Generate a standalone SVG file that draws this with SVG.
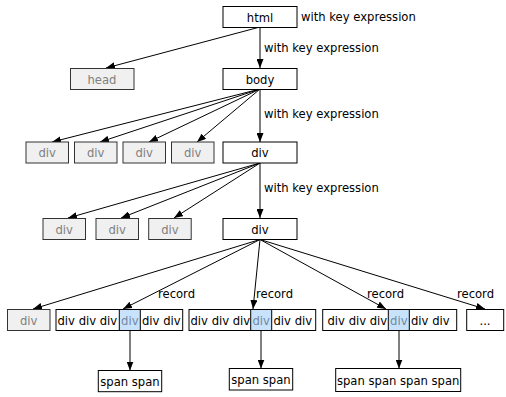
<svg xmlns="http://www.w3.org/2000/svg" width="506" height="397" viewBox="0 0 506 397">
  <defs>
    <marker id="arrow" markerUnits="userSpaceOnUse" markerWidth="9" markerHeight="7" refX="9" refY="3.5" orient="auto">
      <path d="M0,0 L9,3.5 L0,7 z" fill="#000"/>
    </marker>
    <style>
      text { font-family: "DejaVu Sans", Verdana, sans-serif; font-size: 11.6px; fill: #000; }
      .mid { text-anchor: middle; }
      .box { fill: #fff; stroke: #000; stroke-width: 1; }
      .dim rect { fill: #f0f0f0; stroke: #333; stroke-width: 1; }
      .dim text { fill: #808080; }
      .hl { fill: #c9e2fb; stroke: #000; stroke-width: 1; }
      .hlt { fill: #6f88a3; }
      .edge { stroke: #000; stroke-width: 1; fill: none; marker-end: url(#arrow); }
    </style>
  </defs>
  <rect width="506" height="397" fill="#fff"/>

  <!-- connectors -->
  <g id="edges">
    <line class="edge" x1="260" y1="27" x2="106" y2="68"/>
    <line class="edge" x1="260" y1="27" x2="260" y2="68"/>
    <line class="edge" x1="260" y1="89" x2="52" y2="142"/>
    <line class="edge" x1="260" y1="89" x2="100" y2="142"/>
    <line class="edge" x1="260" y1="89" x2="149" y2="142"/>
    <line class="edge" x1="260" y1="89" x2="197" y2="142"/>
    <line class="edge" x1="260" y1="89" x2="260" y2="142"/>
    <line class="edge" x1="260" y1="163" x2="68" y2="218"/>
    <line class="edge" x1="260" y1="163" x2="121" y2="218"/>
    <line class="edge" x1="260" y1="163" x2="174" y2="218"/>
    <line class="edge" x1="260" y1="163" x2="260" y2="218"/>
    <line class="edge" x1="260" y1="239.5" x2="33" y2="309"/>
    <line class="edge" x1="260" y1="239.5" x2="123" y2="309"/>
    <line class="edge" x1="260" y1="239.5" x2="253" y2="309"/>
    <line class="edge" x1="260" y1="239.5" x2="386" y2="309"/>
    <line class="edge" x1="260" y1="239.5" x2="485" y2="309"/>
    <line class="edge" x1="130" y1="331" x2="130" y2="370.5"/>
    <line class="edge" x1="261" y1="331" x2="261" y2="368.5"/>
    <line class="edge" x1="399" y1="331" x2="399" y2="368.5"/>
    <text x="301" y="21">with key expression</text>
    <text x="264" y="52">with key expression</text>
    <text x="264" y="118">with key expression</text>
    <text x="264" y="192">with key expression</text>
    <text x="158" y="298">record</text>
    <text x="256" y="298">record</text>
    <text x="367" y="298">record</text>
    <text x="457" y="298">record</text>
  </g>

  <g id="html"><rect class="box" x="223" y="6.5" width="74" height="21"/><text class="mid" x="260" y="21.5">html</text></g>
  <g id="head" class="dim"><rect x="70.5" y="68.5" width="63.5" height="21"/><text class="mid" x="102" y="83.5">head</text></g>
  <g id="body"><rect class="box" x="223" y="68.5" width="74" height="21"/><text class="mid" x="260" y="83.5">body</text></g>

  <g id="div-a1" class="dim"><rect x="26" y="142" width="42.5" height="21"/><text class="mid" x="47.2" y="157">div</text></g>
  <g id="div-a2" class="dim"><rect x="74.5" y="142" width="42.5" height="21"/><text class="mid" x="95.7" y="157">div</text></g>
  <g id="div-a3" class="dim"><rect x="123" y="142" width="42.5" height="21"/><text class="mid" x="144.2" y="157">div</text></g>
  <g id="div-a4" class="dim"><rect x="171.5" y="142" width="42.5" height="21"/><text class="mid" x="192.7" y="157">div</text></g>
  <g id="div-a"><rect class="box" x="223" y="142" width="74" height="21"/><text class="mid" x="260" y="157">div</text></g>

  <g id="div-b1" class="dim"><rect x="43" y="218.5" width="42.5" height="21"/><text class="mid" x="64.2" y="233.5">div</text></g>
  <g id="div-b2" class="dim"><rect x="96" y="218.5" width="42.5" height="21"/><text class="mid" x="117.2" y="233.5">div</text></g>
  <g id="div-b3" class="dim"><rect x="148.7" y="218.5" width="42.5" height="21"/><text class="mid" x="170" y="233.5">div</text></g>
  <g id="div-b"><rect class="box" x="223" y="218.5" width="74" height="21"/><text class="mid" x="260" y="233.5">div</text></g>

  <g id="div-c0" class="dim"><rect x="7.5" y="309.5" width="42.5" height="21"/><text class="mid" x="28.7" y="324.5">div</text></g>

  <g id="record-1">
    <rect class="box" x="56" y="309.5" width="126.7" height="21"/>
    <rect class="hl" x="119.3" y="309.5" width="21" height="21"/>
    <text x="57.5" y="324.5">div div div</text>
    <text class="mid hlt" x="129.8" y="324.5">div</text>
    <text x="142" y="324.5">div div</text>
  </g>
  <g id="record-2">
    <rect class="box" x="189" y="309.5" width="126.7" height="21"/>
    <rect class="hl" x="250.7" y="309.5" width="21" height="21"/>
    <text x="190.5" y="324.5">div div div</text>
    <text class="mid hlt" x="261.2" y="324.5">div</text>
    <text x="273.5" y="324.5">div div</text>
  </g>
  <g id="record-3">
    <rect class="box" x="322.7" y="309.5" width="134" height="21"/>
    <rect class="hl" x="388.3" y="309.5" width="21" height="21"/>
    <text x="327.5" y="324.5">div div div</text>
    <text class="mid hlt" x="398.8" y="324.5">div</text>
    <text x="411" y="324.5">div div</text>
  </g>
  <g id="record-4"><rect class="box" x="466.7" y="309.5" width="37" height="21"/><text class="mid" x="485" y="324.5">...</text></g>

  <g id="span-1"><rect class="box" x="98.3" y="370.5" width="63.4" height="21.2"/><text class="mid" x="130" y="385.5">span span</text></g>
  <g id="span-2"><rect class="box" x="229.3" y="368.5" width="63.4" height="21.5"/><text class="mid" x="261" y="383.5">span span</text></g>
  <g id="span-3"><rect class="box" x="335.7" y="368.5" width="125" height="23"/><text class="mid" x="398.2" y="384.5">span span span span</text></g>
</svg>
